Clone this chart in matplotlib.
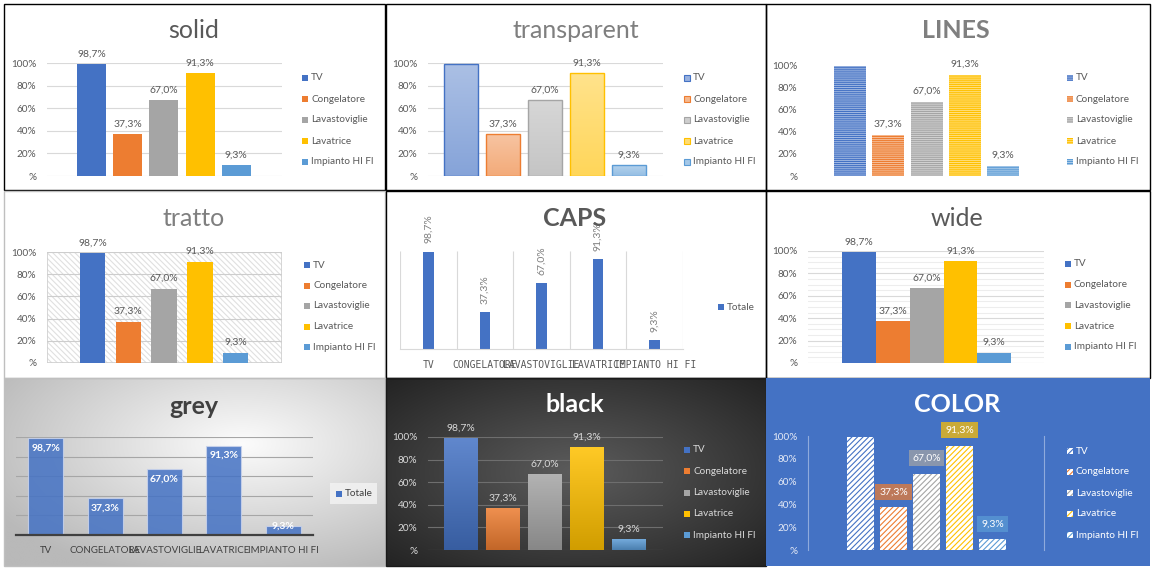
import numpy as np
import matplotlib
matplotlib.use('Agg')
import matplotlib.pyplot as plt
from matplotlib.patches import Rectangle
from matplotlib.colors import to_rgb

# ---------------- data ----------------
categories = ["TV", "Congelatore", "Lavastoviglie", "Lavatrice", "Impianto HI FI"]
values = [98.7, 37.3, 67.0, 91.3, 9.3]
series_colors = ["#4472C4", "#ED7D31", "#A5A5A5", "#FFC000", "#5B9BD5"]
ytick_values = [0, 20, 40, 60, 80, 100]
ytick_labels = ["%", "20%", "40%", "60%", "80%", "100%"]
titles = ["solid", "transparent", "LINES", "tratto", "CAPS", "wide", "grey", "black", "COLOR"]
single_series = "Totale"

W, H = 1154, 570
plt.rcParams['font.family'] = ['Lato', 'DejaVu Sans']
plt.rcParams['hatch.linewidth'] = 0.8

fig = plt.figure(figsize=(W / 100, H / 100), dpi=100)
fig.patch.set_facecolor('white')

def pix_axes(z):
    a = fig.add_axes([0, 0, 1, 1], zorder=z)
    a.set_xlim(0, W); a.set_ylim(H, 0); a.axis('off')
    a.patch.set_visible(False)
    return a

bg = pix_axes(0)
top = pix_axes(5)

LBL = 7.5

def fmt(v):
    return f"{v:.1f}%".replace('.', ',')

def blend(c, other, f):
    c = np.array(to_rgb(c)); o = np.array(to_rgb(other))
    return tuple(c * (1 - f) + o * f)

def pax(x0, x1, ytop, ybot, xlim):
    ax = fig.add_axes([x0 / W, 1 - ybot / H, (x1 - x0) / W, (ybot - ytop) / H], zorder=2)
    ax.patch.set_visible(False)
    ax.set_xlim(*xlim); ax.set_ylim(0, 100)
    for s in ax.spines.values():
        s.set_visible(False)
    ax.tick_params(length=0)
    ax.set_xticks([]); ax.set_yticks([])
    return ax

def cluster_xlim(x0, x1, c0, step):
    return ((x0 - c0) / step, (x1 - c0) / step)

def yticks(ax, color):
    ax.set_yticks(ytick_values, ytick_labels)
    ax.tick_params(axis='y', labelsize=7.2, labelcolor=color, pad=7.5, length=0)

def hgrid(ax, color, lw=0.8):
    ax.yaxis.grid(True, color=color, lw=lw)
    ax.set_axisbelow(True)

def data_labels(ax, xs, vals, color, skip=(), dy=4, **kw):
    for i, (x, v) in enumerate(zip(xs, vals)):
        if i in skip:
            continue
        ax.annotate(fmt(v), (x, v), xytext=(0, dy), textcoords='offset points',
                    ha='center', va='bottom', fontsize=LBL, color=color,
                    annotation_clip=False, **kw)

def legend(x, y0, step, labels, textcolor, styles):
    for i, lab in enumerate(labels):
        y = y0 + step * i
        top.add_patch(Rectangle((x, y - 3), 6, 6, **styles[i]))
        top.text(x + 9, y, lab, ha='left', va='center', fontsize=7.2, color=textcolor)

def frame(x0, y0, x1, y1, ec='black', fc='none', lw=1, z=1):
    bg.add_patch(Rectangle((x0, y0), x1 - x0, y1 - y0, fc=fc, ec=ec, lw=lw, zorder=z))

def title(x, y, s, color, weight='normal', size=18):
    top.text(x, y, s, ha='center', va='center', fontsize=size, color=color, fontweight=weight)

def gradient_bars(ax, bars, colors, top_fn, bot_fn):
    for b, c in zip(bars, colors):
        t = np.array(top_fn(c)); bt = np.array(bot_fn(c))
        f = np.linspace(0, 1, 64)[:, None]
        img = (bt * (1 - f) + t * f)[:, None, :]
        im = ax.imshow(img, extent=[b.get_x(), b.get_x() + b.get_width(), 0, b.get_height()],
                       origin='lower', aspect='auto', zorder=1.5, interpolation='bilinear')
        im.set_clip_path(b)

def radial_bg(x0, y0, x1, y1, cc, ec, cx=0.0, cy=0.0):
    yy, xx = np.mgrid[-1:1:120j, -1:1:240j]
    r = np.clip(np.sqrt((xx - cx) ** 2 + (yy - cy) ** 2) / 1.5, 0, 1)[..., None]
    img = np.array(cc) / 255 * (1 - r) + np.array(ec) / 255 * r
    bg.imshow(img, extent=[x0, x1, y1, y0], aspect='auto', zorder=0.5, interpolation='bilinear')
    bg.set_xlim(0, W); bg.set_ylim(H, 0)

x = np.arange(len(values))
grey_txt = '#595959'

# ================= 1. solid =================
frame(4, 4, 385, 190)
title(194, 31, titles[0], grey_txt)
s = 36.2
ax = pax(47, 282, 63, 176, cluster_xlim(47, 282, 91.5, s))
yticks(ax, grey_txt); hgrid(ax, '#D9D9D9')
ax.bar(x, values, 29 / s, color=series_colors)
data_labels(ax, x, values, grey_txt)
legend(302, 78, 21, categories, grey_txt, [dict(fc=c, ec='none') for c in series_colors])

# ================= 2. transparent =================
frame(386, 4, 766, 190)
title(576, 31, titles[1], '#7F7F7F')
s = 42
ax = pax(428, 663, 63, 176, cluster_xlim(428, 663, 461, s))
yticks(ax, grey_txt); hgrid(ax, '#D9D9D9')
bars = ax.bar(x, values, 34 / s, facecolor='none', edgecolor=series_colors, lw=1, zorder=2)
gradient_bars(ax, bars, series_colors, lambda c: blend(c, 'white', 0.55), lambda c: blend(c, 'white', 0.35))
ax.set_xlim(*cluster_xlim(428, 663, 461, s)); ax.set_ylim(0, 100)
data_labels(ax, x, values, grey_txt, skip=(0,))
legend(684, 78, 21, categories, grey_txt,
       [dict(fc=blend(c, 'white', 0.45), ec=c, lw=0.8) for c in series_colors])

# ================= 3. LINES =================
frame(766, 4, 1150, 190)
title(956, 31, titles[2], '#7F7F7F', 'bold')
s = 38.3
ax = pax(808, 1046, 65, 176, cluster_xlim(808, 1046, 850, s))
yticks(ax, grey_txt)
ax.bar(x, values, 32 / s, facecolor=[blend(c, 'white', 0.5) for c in series_colors],
       edgecolor=series_colors, lw=0, hatch='-' * 8)
data_labels(ax, x, values, grey_txt, skip=(0,))
legend(1067, 78, 21, categories, grey_txt,
       [dict(fc=blend(c, 'white', 0.5), ec=c, lw=0, hatch='-' * 8) for c in series_colors])

# ================= 4. tratto =================
frame(4, 191, 385, 378, ec='#BFBFBF')
title(194, 218, titles[3], '#7F7F7F')
s = 35.8
ax = pax(47, 282, 252, 363, cluster_xlim(47, 282, 92.5, s))
ax.add_patch(Rectangle((0, 0), 1, 1, transform=ax.transAxes, fc='white', ec='#E0E0E0',
                       hatch='\\' * 6, lw=0, zorder=0))
ax.add_patch(Rectangle((0, 0), 1, 1, transform=ax.transAxes, fc='none', ec='#D0D0D0',
                       lw=1.2, zorder=0.5))
yticks(ax, grey_txt); hgrid(ax, '#CDCDCD')
ax.bar(x, values, 25.5 / s, color=series_colors, zorder=3)
data_labels(ax, x, values, grey_txt)
legend(304, 265, 20.5, categories, grey_txt, [dict(fc=c, ec='none') for c in series_colors])

# ================= 5. CAPS =================
frame(386, 191, 766, 378)
ax = pax(400, 683, 250.5, 349, (-0.5, len(values) - 0.5))
ax.vlines(np.arange(len(values) + 1) - 0.5, 0, 100, color='#D9D9D9', lw=0.8, zorder=0)
ax.spines['bottom'].set_visible(True); ax.spines['bottom'].set_color('#D9D9D9')
ax.bar(x, values, 10.5 / 56.6, color=series_colors[0], zorder=2)
ax.set_xticks(x, [c.upper() for c in categories], fontsize=7, color=grey_txt,
              family='DejaVu Sans Mono')
ax.tick_params(axis='x', pad=8, length=0)
data_labels(ax, x, values, '#7F7F7F', dy=6, rotation=90)
title(575, 218, titles[4], grey_txt, 'bold')
legend(718, 307, 0, [single_series], grey_txt, [dict(fc=series_colors[0], ec='none')])

# ================= 6. wide =================
frame(766, 191, 1150, 378)
title(957, 218, titles[5], grey_txt)
s = 33.8
ax = pax(808, 1044, 251, 363, cluster_xlim(808, 1044, 859, s))
yticks(ax, grey_txt)
ax.set_yticks(np.arange(0, 101, 5), minor=True)
ax.tick_params(which='minor', length=0)
ax.yaxis.grid(True, which='minor', color='#EDEDED', lw=0.8)
ax.yaxis.grid(True, which='major', color='#D9D9D9', lw=0.8)
ax.set_axisbelow(True)
ax.bar(x, values, 1.0, color=series_colors)
data_labels(ax, x, values, grey_txt)
legend(1065, 264, 20.7, categories, grey_txt, [dict(fc=c, ec='none') for c in series_colors])

# ================= 7. grey =================
radial_bg(4, 378, 385, 566, (252, 252, 252), (185, 185, 185), cx=0.25, cy=-0.3)
frame(4, 378, 385, 566, ec='#BFBFBF')
title(194, 406, titles[6], '#404040', 'bold')
ax = pax(16, 313, 437, 535, (-0.5, len(values) - 0.5))
ax.set_yticks(ytick_values)
ax.tick_params(axis='y', labelleft=False, length=0)
hgrid(ax, '#A6A6A6')
ax.spines['bottom'].set_visible(True); ax.spines['bottom'].set_color('#404040')
ax.spines['bottom'].set_linewidth(1.6)
ax.bar(x, values, 35 / 59.4, color=series_colors[0], alpha=0.85, edgecolor='#C9D3EC', lw=0.8, zorder=2)
for xi, v in zip(x, values):
    if v > 15:
        ax.annotate(fmt(v), (xi, v), xytext=(0, -4), textcoords='offset points', ha='center',
                    va='top', fontsize=LBL, color='white', fontweight='bold')
    else:
        ax.annotate(fmt(v), (xi, v), ha='center', va='center', fontsize=LBL, color='white',
                    fontweight='bold')
ax.set_xticks(x, [c.upper() for c in categories], fontsize=7, color='#404040')
ax.tick_params(axis='x', pad=8, length=0)
top.add_patch(Rectangle((330, 483), 47, 21, fc='#F2F2F2', ec='none', alpha=0.85))
legend(336, 494, 0, [single_series], '#404040', [dict(fc=series_colors[0], ec='none')])

# ================= 8. black =================
radial_bg(386, 378, 766, 566, (92, 92, 92), (32, 32, 32))
frame(386, 378, 766, 566, ec='#1A1A1A')
title(575, 405, titles[7], 'white', 'bold')
s = 42
ax = pax(428, 663, 437, 550, cluster_xlim(428, 663, 461, s))
yticks(ax, '#D9D9D9'); hgrid(ax, '#6E6E6E')
bars = ax.bar(x, values, 34 / s, facecolor='none', edgecolor='none', zorder=2)
gradient_bars(ax, bars, series_colors, lambda c: blend(c, 'white', 0.15), lambda c: blend(c, 'black', 0.18))
ax.set_xlim(*cluster_xlim(428, 663, 461, s)); ax.set_ylim(0, 100)
data_labels(ax, x, values, '#D9D9D9')
legend(684, 450, 21.3, categories, '#D9D9D9', [dict(fc=c, ec='none') for c in series_colors])

# ================= 9. COLOR =================
bg.add_patch(Rectangle((766, 378), 384, 188, fc='#4472C4', ec='none', zorder=1))
title(957, 405, titles[8], 'white', 'bold')
s = 33
ax = pax(808, 1044, 436, 550, cluster_xlim(808, 1044, 860.5, s))
yticks(ax, '#E4E9F5')
for side in ('left', 'right'):
    ax.spines[side].set_visible(True); ax.spines[side].set_color('#8FAADC'); ax.spines[side].set_linewidth(0.8)
ax.bar(x, values, 27 / s, facecolor='white', edgecolor=series_colors, lw=0, hatch='/' * 6)
for i, (xi, v, c) in enumerate(zip(x, values, series_colors)):
    if i == 0:
        continue
    ax.annotate(fmt(v), (xi, v), xytext=(0, 8), textcoords='offset points', ha='center',
                va='bottom', fontsize=LBL, color='white', annotation_clip=False,
                bbox=dict(boxstyle='square,pad=0.35', fc=c, ec='none', alpha=0.72))
legend(1067, 451, 21, categories, 'white',
       [dict(fc='white', ec=c, lw=0, hatch='/' * 6) for c in series_colors])

fig.savefig('out.png', dpi=100, facecolor='white')
